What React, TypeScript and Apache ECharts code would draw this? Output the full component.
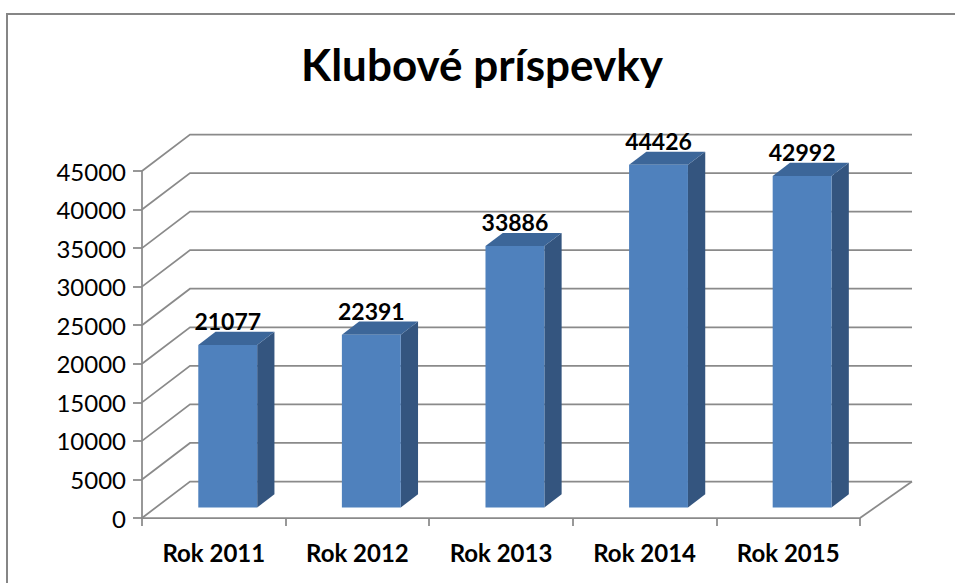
import React, { useEffect, useRef } from "react";
import * as echarts from "echarts";

const titleText = "Klubové príspevky";
const categories = ["Rok 2011", "Rok 2012", "Rok 2013", "Rok 2014", "Rok 2015"];
const values = [21077, 22391, 33886, 44426, 42992];
const gridValues = [0, 5000, 10000, 15000, 20000, 25000, 30000, 35000, 40000, 45000];

const DX = 48;
const DY = -36.5;
const DX_RIGHT = 52;
const BAR_FRONT = 0.29;
const BAR_BACK = 0.65;
const BAR_WIDTH_RATIO = 0.41;
const GRID_COLOR = "#8a8a8a";
const FONT = "Lato, 'Open Sans', sans-serif";

export default function App() {
  const ref = useRef<HTMLDivElement>(null);
  useEffect(() => {
    if (!ref.current) return;
    const chart = echarts.init(ref.current, null, { renderer: "svg" });
    const option: any = {
      animation: false,
      backgroundColor: "#ffffff",
      graphic: [
        {
          type: "rect",
          shape: { x: 7, y: 14, width: 2000, height: 2000 },
          style: { fill: "none", stroke: "#868686", lineWidth: 2 },
          silent: true,
        },
        {
          type: "text",
          x: 482,
          y: 64,
          style: {
            text: titleText,
            fontFamily: FONT,
            fontWeight: "bold",
            fontSize: 44,
            fill: "#000",
            align: "center",
            verticalAlign: "middle",
            textAlign: "center",
            textVerticalAlign: "middle",
          },
        },
      ],
      grid: { left: 142, right: 95, top: 171, bottom: 65, containLabel: false },
      xAxis: {
        type: "category",
        data: categories,
        boundaryGap: true,
        axisLine: { show: true, lineStyle: { color: GRID_COLOR, width: 1.75 } },
        axisTick: { show: true, length: 8, lineStyle: { color: GRID_COLOR, width: 1.75 } },
        axisLabel: {
          margin: 22,
          fontFamily: FONT,
          fontWeight: "bold",
          fontSize: 24,
          color: "#000",
        },
        splitLine: { show: false },
      },
      yAxis: {
        type: "value",
        min: 0,
        max: 45000,
        interval: 5000,
        axisLine: { show: true, lineStyle: { color: GRID_COLOR, width: 1.75 } },
        axisTick: { show: true, length: 9, lineStyle: { color: GRID_COLOR, width: 1.75 } },
        axisLabel: {
          margin: 16,
          fontFamily: FONT,
          fontSize: 24,
          color: "#000",
          formatter: (v: number) => String(v),
        },
        splitLine: { show: false },
      },
      series: [
        {
          type: "custom",
          silent: true,
          data: gridValues.map((v) => [0, v]),
          encode: { x: 0, y: 1 },
          renderItem: (params: any, api: any) => {
            const v = api.value(1);
            const cs = params.coordSys;
            const y = api.coord([0, v])[1];
            const x0 = cs.x;
            const x1 = cs.x + cs.width;
            const children: any[] = [
              {
                type: "polyline",
                shape: { points: [[x0, y], [x0 + DX, y + DY], [x1 + DX_RIGHT, y + DY]] },
                style: { stroke: GRID_COLOR, lineWidth: 1.75, fill: "none" },
              },
            ];
            if (v === 0) {
              children.push({
                type: "line",
                shape: { x1: x1, y1: y, x2: x1 + DX_RIGHT, y2: y + DY },
                style: { stroke: GRID_COLOR, lineWidth: 1.75 },
              });
            }
            return { type: "group", children };
          },
          z: 1,
        },
        {
          type: "custom",
          data: values.map((v, i) => [i, v]),
          encode: { x: 0, y: 1 },
          renderItem: (params: any, api: any) => {
            const i = api.value(0);
            const v = api.value(1);
            const base = api.coord([i, 0]);
            const top = api.coord([i, v]);
            const w = api.size([1, 0])[0] * BAR_WIDTH_RATIO;
            const fx = DX * BAR_FRONT;
            const fy = DY * BAR_FRONT;
            const sx = DX * (BAR_BACK - BAR_FRONT);
            const sy = DY * (BAR_BACK - BAR_FRONT);
            const L = base[0] - w / 2 + fx;
            const R = L + w;
            const B = base[1] + fy;
            const T = top[1] + fy;
            return {
              type: "group",
              children: [
                {
                  type: "polygon",
                  shape: { points: [[R, T], [R + sx, T + sy], [R + sx, B + sy], [R, B]] },
                  style: { fill: "#34557f" },
                },
                {
                  type: "polygon",
                  shape: { points: [[L, T], [R, T], [R + sx, T + sy], [L + sx, T + sy]] },
                  style: { fill: "#3c6699" },
                },
                {
                  type: "rect",
                  shape: { x: L, y: T, width: w, height: B - T },
                  style: { fill: "#4f81bd" },
                },
                {
                  type: "text",
                  x: (L + R) / 2,
                  y: T + sy + 1,
                  style: {
                    text: String(v),
                    fontFamily: FONT,
                    fontWeight: "bold",
                    fontSize: 23,
                    fill: "#000",
                    align: "center",
                    verticalAlign: "bottom",
                    textAlign: "center",
                    textVerticalAlign: "bottom",
                  },
                },
              ],
            };
          },
          z: 2,
        },
      ],
    };
    chart.setOption(option);
    return () => chart.dispose();
  }, []);
  return (
    <div
      ref={ref}
      style={{ position: "fixed", left: 0, top: 0, width: 955, height: 583, background: "#fff" }}
    />
  );
}
